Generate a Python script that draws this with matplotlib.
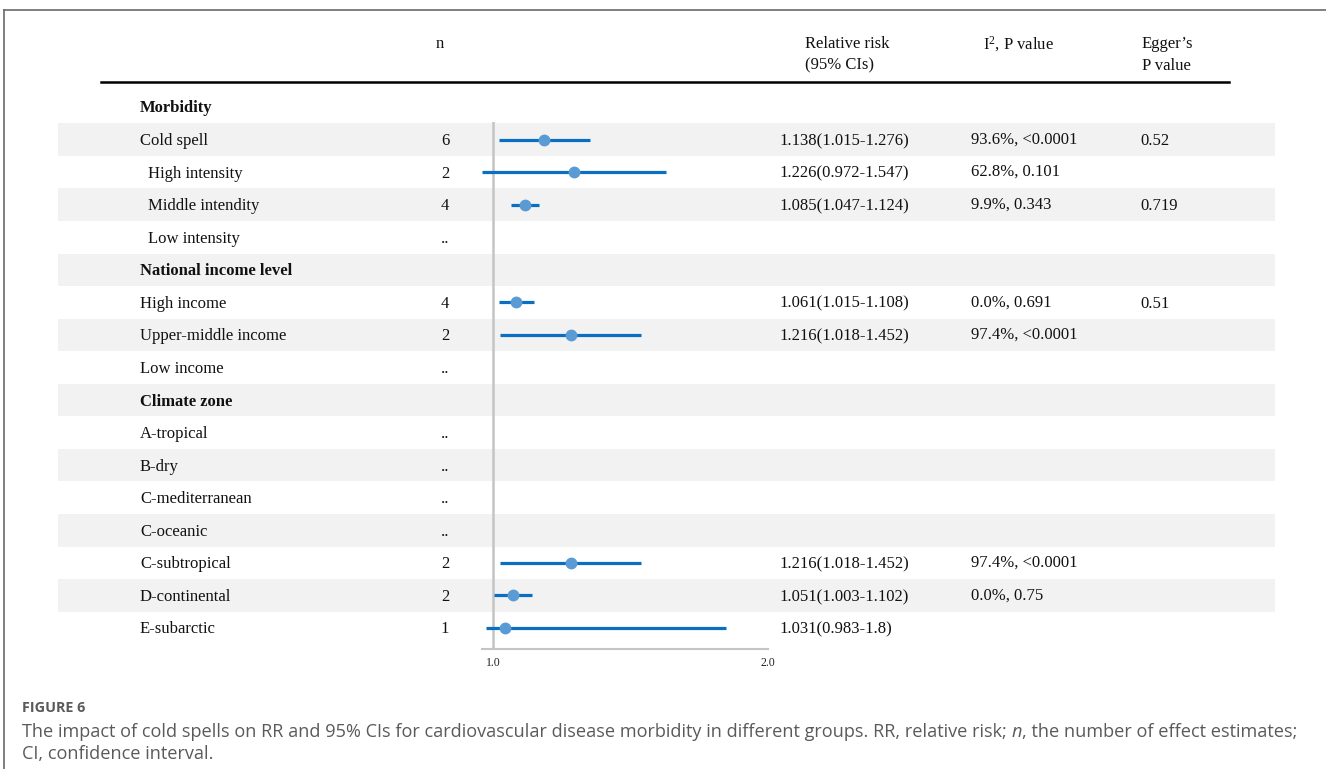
import numpy as np
import matplotlib
matplotlib.use("Agg")
import matplotlib.pyplot as plt
from matplotlib.patches import Rectangle

plt.rcParams['mathtext.fontset'] = 'custom'
plt.rcParams['mathtext.rm'] = 'Liberation Serif'
plt.rcParams['mathtext.it'] = 'Liberation Serif:italic'

# table rows (top to bottom)
labels = ["Morbidity", "Cold spell", "High intensity", "Middle intendity", "Low intensity",
          "National income level", "High income", "Upper-middle income", "Low income",
          "Climate zone", "A-tropical", "B-dry", "C-mediterranean", "C-oceanic",
          "C-subtropical", "D-continental", "E-subarctic"]
headers = ["Morbidity", "National income level", "Climate zone"]
indented = ["High intensity", "Middle intendity", "Low intensity"]
n_col = ["", "6", "2", "4", "..", "", "4", "2", "..", "", "..", "..", "..", "..", "2", "2", "1"]

rr = [None, 1.138, 1.226, 1.085, None, None, 1.061, 1.216, None, None,
      None, None, None, None, 1.216, 1.051, 1.031]
ci_low = [None, 1.015, 0.972, 1.047, None, None, 1.015, 1.018, None, None,
          None, None, None, None, 1.018, 1.003, 0.983]
ci_high = [None, 1.276, 1.547, 1.124, None, None, 1.108, 1.452, None, None,
           None, None, None, None, 1.452, 1.102, 1.8]
rr_text = ["", "1.138(1.015-1.276)", "1.226(0.972-1.547)", "1.085(1.047-1.124)", "", "",
           "1.061(1.015-1.108)", "1.216(1.018-1.452)", "", "", "", "", "", "",
           "1.216(1.018-1.452)", "1.051(1.003-1.102)", "1.031(0.983-1.8)"]
i2_p = ["", "93.6%, <0.0001", "62.8%, 0.101", "9.9%, 0.343", "", "", "0.0%, 0.691",
        "97.4%, <0.0001", "", "", "", "", "", "", "97.4%, <0.0001", "0.0%, 0.75", ""]
egger = ["", "0.52", "", "0.719", "", "", "0.51", "", "", "", "", "", "", "", "", "", ""]

W, H = 1326, 769
fig = plt.figure(figsize=(W / 100, H / 100), dpi=100)

# page layer in pixel units
ax = fig.add_axes([0, 0, 1, 1])
ax.set_xlim(0, W)
ax.set_ylim(H, 0)
ax.axis('off')

y0, dy = 107, 32.56
row_y = [y0 + i * dy for i in range(len(labels))]

# frame
ax.plot([4, W], [10, 10], color='#6a6a6a', lw=1.2)
ax.plot([4, 4], [10, H], color='#6a6a6a', lw=1.2)

# zebra shading
for i, y in enumerate(row_y):
    if i % 2 == 1:
        ax.add_patch(Rectangle((58, y - dy / 2), 1275 - 58, dy, color='#f2f2f2', lw=0, zorder=0))

serif = dict(family='Liberation Serif', fontsize=12, color='#111111')
ty = 1.5  # text sits a little below the row centre

# column headers
ax.text(440, 43 + ty, "n", ha='center', va='center', **serif)
ax.text(805, 43 + ty, "Relative risk", ha='left', va='center', **serif)
ax.text(805, 64 + ty, "(95% CIs)", ha='left', va='center', **serif)
ax.text(983, 43 + ty, "I$^{2}$, P value", ha='left', va='center', **serif)
ax.text(1142, 43 + ty, "Egger\u2019s", ha='left', va='center', **serif)
ax.text(1142, 64 + ty, "P value", ha='left', va='center', **serif)
ax.plot([101, 1229], [82, 82], color='black', lw=1.8)

for i, y in enumerate(row_y):
    lab = labels[i]
    if lab in headers:
        ax.text(140, y + ty, lab, ha='left', va='center', fontweight='bold', **serif)
    else:
        x = 148 if lab in indented else 140
        ax.text(x, y + ty, lab, ha='left', va='center', **serif)
    ax.text(445, y + ty, n_col[i], ha='center', va='center', **serif)
    ax.text(779, y + ty, rr_text[i], ha='left', va='center', **serif)
    ax.text(971, y, i2_p[i], ha='left', va='center', **serif)
    ax.text(1140, y + ty, egger[i], ha='left', va='center', **serif)

# forest plot on a log scale, 1.0 at x=493 px and 2.0 at x=768 px
xmin, xmax = 0.972, 2.0
scale = (768 - 493) / np.log(2.0)
left_px = 493 + np.log(xmin) * scale
top_px, bot_px = 122, 649
fax = fig.add_axes([left_px / W, 1 - bot_px / H, (768 - left_px) / W, (bot_px - top_px) / H])
fax.patch.set_alpha(0)
fax.set_xscale('log')
fax.set_xlim(xmin, xmax)
fax.set_ylim((bot_px - y0) / dy, (top_px - y0) / dy)
for s in ['top', 'right', 'left']:
    fax.spines[s].set_visible(False)
fax.spines['bottom'].set_color('#c4c4c4')
fax.spines['bottom'].set_linewidth(1.5)
fax.set_yticks([])
fax.set_xticks([1.0, 2.0])
fax.set_xticklabels(["1.0", "2.0"], family='Liberation Serif', fontsize=8.5, color='#222222')
fax.xaxis.set_minor_locator(matplotlib.ticker.NullLocator())
fax.tick_params(axis='x', length=0, pad=6)
fax.axvline(1.0, color='#c4c4c4', lw=1.8, zorder=1)

for i in range(len(labels)):
    if rr[i] is None:
        continue
    fax.plot([ci_low[i], ci_high[i]], [i, i], color='#0a6fc2', lw=2.3, solid_capstyle='butt',
             zorder=2, clip_on=False)
    fax.plot(rr[i], i, 'o', color='#5b9bd5', markersize=7.5, zorder=3, clip_on=False)

# caption
sans = dict(family='Open Sans', color='#5a5a5a')
fs = 13.1
ax.text(22, 708, "FIGURE 6", ha='left', va='center', fontweight='bold', fontsize=10.4, **sans)
t1 = ax.text(22, 732, "The impact of cold spells on RR and 95% CIs for cardiovascular disease "
             "morbidity in different groups. RR, relative risk; ", ha='left', va='center',
             fontsize=fs, **sans)
t2 = ax.annotate("n", xy=(1, 0), xycoords=t1, ha='left', va='bottom', fontsize=fs,
                 style='italic', **sans)
ax.annotate(", the number of effect estimates;", xy=(1, 0), xycoords=t2, ha='left', va='bottom',
            fontsize=fs, **sans)
ax.text(22, 754, "CI, confidence interval.", ha='left', va='center', fontsize=fs, **sans)

fig.savefig("out.png", dpi=100)
